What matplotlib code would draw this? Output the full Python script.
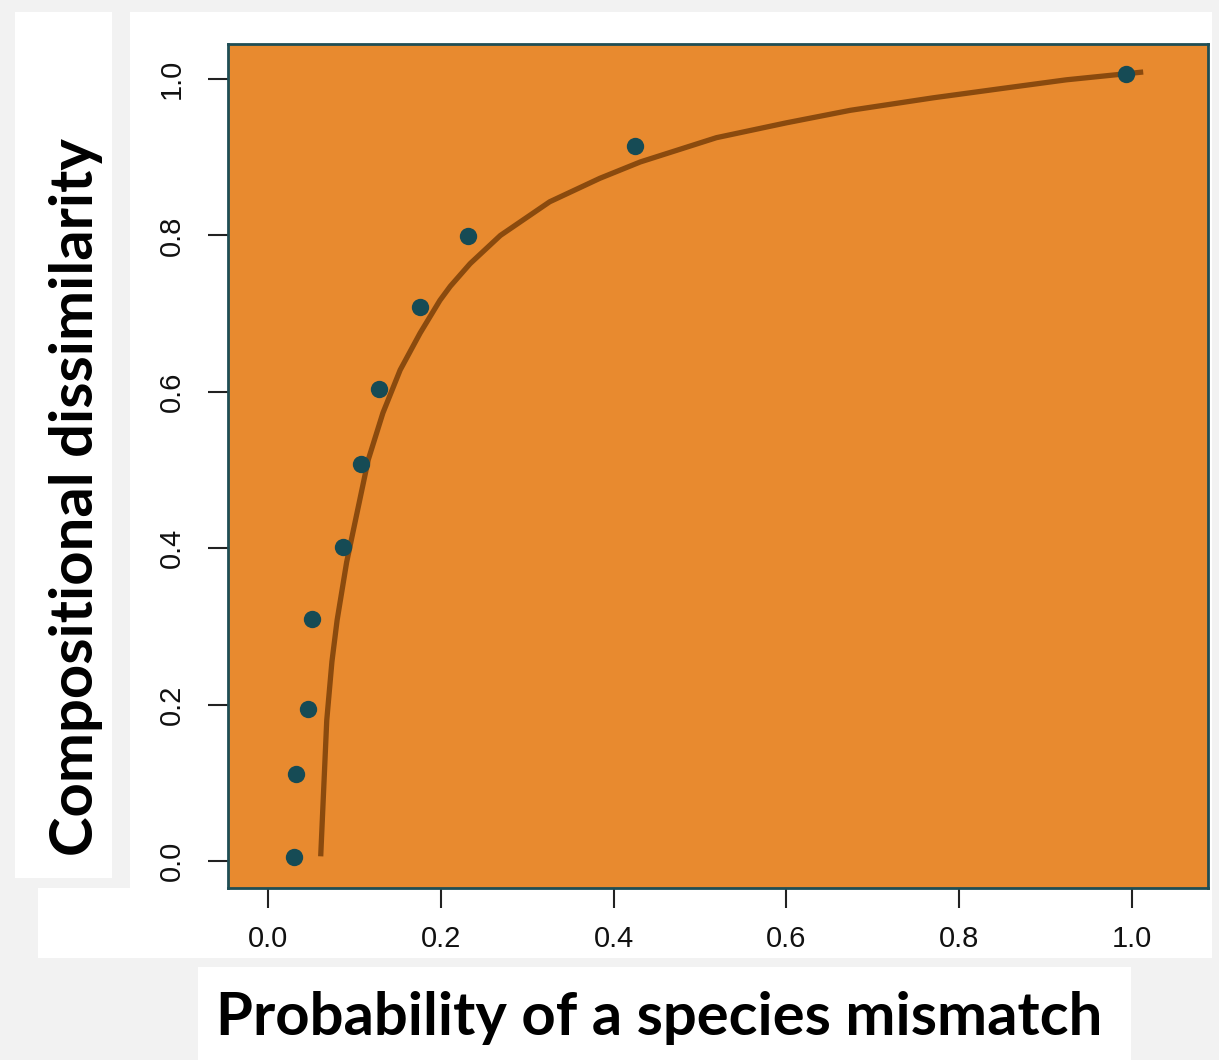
import matplotlib
matplotlib.use("Agg")
import matplotlib.pyplot as plt
from matplotlib.patches import Rectangle

mismatch_prob = [0.030, 0.032, 0.046, 0.051, 0.087, 0.108, 0.128, 0.176, 0.231, 0.425, 0.993]
dissimilarity = [0.005, 0.111, 0.195, 0.309, 0.402, 0.508, 0.603, 0.709, 0.799, 0.914, 1.007]

# 拟合曲线 (沿曲线读取的点)
curve_x = [0.061, 0.068, 0.074, 0.080, 0.091, 0.103, 0.116, 0.133, 0.153, 0.176, 0.199,
           0.211, 0.234, 0.269, 0.326, 0.384, 0.431, 0.519, 0.600, 0.674, 0.770,
           0.850, 0.924, 1.013]
curve_y = [0.006, 0.180, 0.255, 0.308, 0.382, 0.445, 0.513, 0.573, 0.628, 0.675, 0.717,
           0.735, 0.764, 0.800, 0.843, 0.873, 0.894, 0.925, 0.944, 0.960, 0.976,
           0.988, 0.999, 1.009]

ticks = [0.0, 0.2, 0.4, 0.6, 0.8, 1.0]
tick_labels = ["0.0", "0.2", "0.4", "0.6", "0.8", "1.0"]

W, H = 1219, 1060
fig = plt.figure(figsize=(W / 100, H / 100), dpi=100, facecolor="#f2f2f2")


def px_rect(x0, y0, x1, y1, color="white"):
    # 像素坐标 -> figure 坐标
    fig.patches.append(Rectangle((x0 / W, 1 - y1 / H), (x1 - x0) / W, (y1 - y0) / H,
                                 transform=fig.transFigure, facecolor=color,
                                 edgecolor="none", zorder=-5))


# 白色底块
px_rect(130, 12, 1212, 888)
px_rect(38, 888, 1212, 958)
px_rect(15, 12, 112, 878)
px_rect(198, 967, 1131, 1060)

ax = fig.add_axes([228 / W, 1 - 888 / H, (1208 - 228) / W, (888 - 44) / H])
ax.set_facecolor("#e88a2f")
for s in ax.spines.values():
    s.set_color("#1f4e55")
    s.set_linewidth(2)

ax.plot(curve_x, curve_y, color="#8a4a0e", lw=3.8, solid_capstyle="butt",
        solid_joinstyle="round", zorder=2)
ax.plot(mismatch_prob, dissimilarity, "o", color="#164b55", ms=12.5, mec="none", zorder=3)

ax.set_xlim(-0.0463, 1.088)
ax.set_ylim(-0.0345, 1.0448)
ax.set_xticks(ticks)
ax.set_yticks(ticks)
ax.set_xticklabels(tick_labels)
ax.set_yticklabels(tick_labels, rotation=90, va="center")
ax.tick_params(axis="both", direction="out", length=14.4, width=1.5, color="#222222",
               labelsize=21, labelcolor="#111111")
ax.tick_params(axis="x", pad=12)
ax.tick_params(axis="y", pad=16)
for lab in ax.get_xticklabels() + ax.get_yticklabels():
    lab.set_family("Liberation Sans")

fig.text(76 / W, 1 - 497 / H, "Compositional dissimilarity", rotation=90,
         ha="center", va="center", fontsize=43, fontweight="bold", family="Lato")
fig.text(659 / W, 1 - 1018 / H, "Probability of a species mismatch",
         ha="center", va="center", fontsize=43, fontweight="bold", family="Lato")

fig.savefig("out.png", dpi=100, facecolor=fig.get_facecolor())
